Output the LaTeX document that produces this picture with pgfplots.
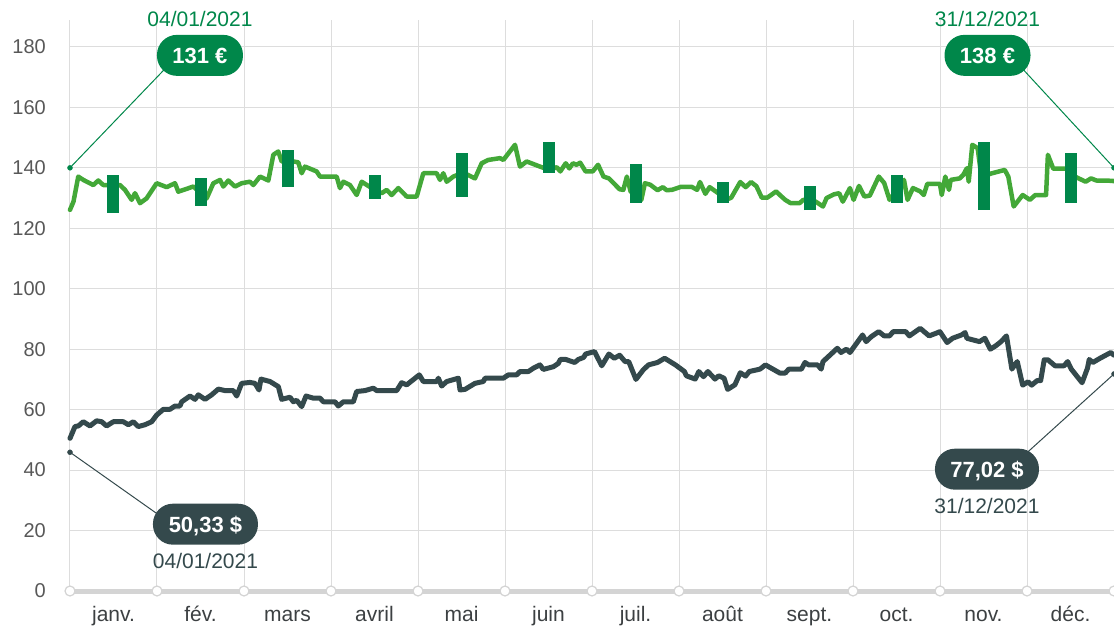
\documentclass[border=0pt]{standalone}
\usepackage{fontspec}
\setmainfont{Liberation Sans}
\usepackage{pgfplots}
\pgfplotsset{compat=1.18}
\definecolor{lgreen}{RGB}{67,168,56}
\definecolor{dgreen}{RGB}{0,135,74}
\definecolor{slate}{RGB}{52,73,76}
\definecolor{gridc}{RGB}{221,221,221}
\definecolor{basec}{RGB}{212,212,212}
\definecolor{ytc}{RGB}{88,88,88}
\definecolor{xtc}{RGB}{60,64,66}
\tikzset{
  pill/.style={rounded corners=20bp, minimum height=41bp, inner xsep=15bp, inner ysep=0pt,
    text height=16bp, text depth=0bp, text=white,
    font=\fontsize{22bp}{26bp}\selectfont\bfseries},
  datelbl/.style={anchor=base, inner sep=0pt, font=\fontsize{21bp}{25bp}\selectfont},
}
\begin{document}
\begin{tikzpicture}
\begin{axis}[
  name=ax, scale only axis,
  width=1044bp, height=571bp,
  xmin=0, xmax=12, ymin=0, ymax=188.9,
  clip=false,
  axis line style={draw=none},
  major tick style={draw=none}, minor tick style={draw=none},
  ytick={0,20,...,180},
  ymajorgrids,
  xtick={0.5,1.5,...,11.5},
  xticklabels={janv.,fév.,mars,avril,mai,juin,juil.,août,sept.,oct.,nov.,déc.},
  minor xtick={0,1,...,12},
  xminorgrids,
  major grid style={gridc, line width=1bp},
  minor grid style={gridc, line width=1bp},
  /pgf/number format/assume math mode=true,
  yticklabel style={font=\fontsize{20bp}{24bp}\selectfont, text=ytc, inner sep=0pt, anchor=east, xshift=-24bp},
  xticklabel style={font=\fontsize{21bp}{25bp}\selectfont, text=xtc, inner sep=0pt, anchor=north, text height=15bp, text depth=5bp, yshift=-15bp},
]
% baseline
\addplot[basec, line width=5bp] coordinates {(0,0) (12,0)};
\addplot[only marks, mark=*, mark size=5bp, mark options={fill=white, draw=basec, line width=1.2bp}]
 coordinates {(0,0)(1,0)(2,0)(3,0)(4,0)(5,0)(6,0)(7,0)(8,0)(9,0)(10,0)(11,0)(12,0)};
% green series
\addplot[lgreen, line width=4.5bp, line join=round, line cap=round] coordinates {
(0,126.1)(0.04,128.8)(0.095,137.1)(0.153,136)(0.268,134.3)(0.325,135.8)(0.383,134.3)(0.575,134.3)
(0.632,132.7)(0.709,129.4)(0.747,131.6)(0.805,128.3)(0.881,129.9)(0.996,134.9)(1.111,133.6)(1.207,134.9)
(1.245,132.1)(1.418,133.8)(1.571,129.9)(1.648,134.9)(1.724,136)(1.762,133.8)(1.82,135.8)(1.897,133.8)
(1.973,134.9)(2.069,135.4)(2.107,134.3)(2.184,137.1)(2.28,135.8)(2.337,144.3)(2.394,145.4)(2.433,142.1)
(2.567,142.1)(2.624,141.8)(2.663,138.2)(2.701,140.4)(2.835,138.8)(2.874,137.1)(3.065,137.1)(3.103,133.3)
(3.142,135.4)(3.218,134.3)(3.295,131)(3.353,135.4)(3.467,133.3)(3.582,131.6)(3.64,132.7)(3.697,131)
(3.774,133.3)(3.87,130.5)(3.985,130.5)(4.061,138.2)(4.215,138.2)(4.253,136)(4.291,138.2)(4.33,135.4)
(4.406,137.1)(4.521,138.4)(4.655,136.5)(4.732,141.5)(4.808,142.6)(4.943,143.2)(4.981,142.6)(5.115,147.6)
(5.172,140.4)(5.249,142.1)(5.402,140.4)(5.512,139.3)(5.595,140.2)(5.636,138.8)(5.698,141.5)(5.739,139.8)
(5.781,141.5)(5.822,141)(5.864,141.7)(5.926,138.8)(6.008,138.8)(6.07,141)(6.132,137.1)(6.194,136.5)
(6.318,132.9)(6.36,132.7)(6.401,137.1)(6.443,132.2)(6.567,129.4)(6.608,134.9)(6.67,134.4)(6.753,132.6)
(6.815,133.6)(6.856,132.6)(6.918,132.7)(7.021,133.7)(7.146,133.7)(7.208,132.7)(7.241,135.3)(7.303,131.4)
(7.352,133.6)(7.456,131.5)(7.538,129.4)(7.6,130.1)(7.704,135.3)(7.766,133.6)(7.828,135.3)(7.89,133.9)
(7.952,130.1)(8.014,130.1)(8.117,132.2)(8.159,131.0)(8.221,129.4)(8.283,128.3)(8.386,128.3)(8.428,129.4)
(8.572,128.8)(8.655,127.2)(8.696,130)(8.779,131.2)(8.841,131.6)(8.883,128.8)(8.965,133.3)(9.007,129.4)
(9.069,134)(9.131,130.5)(9.193,130.8)(9.296,137.1)(9.358,135)(9.42,129.4)(9.586,136)(9.627,129.4)
(9.689,133.3)(9.772,132.2)(9.813,131)(9.854,134.7)(9.999,134.7)(10.02,131)(10.061,137.1)(10.103,132.7)
(10.123,136)(10.227,136.5)(10.268,137.7)(10.309,139.9)(10.33,135.4)(10.371,147.6)(10.433,146.5)(10.475,137.1)
(10.599,138.2)(10.744,139.3)(10.785,137.1)(10.847,127.2)(10.95,131)(11.033,129.4)(11.095,131)(11.219,131)
(11.24,144.3)(11.302,139.7)(11.467,139.7)(11.55,137.1)(11.674,135.4)(11.736,136.5)(11.798,135.8)(11.984,135.7)
(12,135.5)};
% bars
\addplot[dgreen, line width=12bp, unbounded coords=jump] coordinates {
(0.5,125.2)(0.5,137.7)(0.5,nan)
(1.5,127.4)(1.5,136.6)(1.5,nan)
(2.5,133.5)(2.5,145.9)(2.5,nan)
(3.5,129.7)(3.5,137.7)(3.5,nan)
(4.5,130.5)(4.5,144.8)(4.5,nan)
(5.5,138.4)(5.5,148.7)(5.5,nan)
(6.5,128.4)(6.5,141.1)(6.5,nan)
(7.5,128.4)(7.5,135.3)(7.5,nan)
(8.5,126.0)(8.5,133.9)(8.5,nan)
(9.5,128.4)(9.5,137.5)(9.5,nan)
(10.5,126.0)(10.5,148.5)(10.5,nan)
(11.5,128.4)(11.5,144.8)};
% dark series
\addplot[slate, line width=5bp, line join=round, line cap=round] coordinates {
(0,50.5)(0.057,54.4)(0.096,54.6)(0.153,56)(0.23,54.6)(0.306,56.3)(0.364,56)(0.421,54.6)(0.498,56)
(0.613,56)(0.671,55)(0.728,56)(0.785,54.4)(0.862,55)(0.939,56)(0.996,58.2)(1.073,60.1)(1.149,60.1)
(1.207,61.2)(1.264,61.2)(1.284,62.6)(1.379,64.5)(1.437,63.4)(1.475,64.9)(1.552,63.4)(1.628,64.9)
(1.705,66.8)(1.782,66.3)(1.877,66.3)(1.916,64.5)(1.973,68.7)(2.069,69)(2.126,68.7)(2.172,66.5)
(2.195,70.1)(2.299,69.3)(2.395,67.6)(2.433,63.4)(2.529,64.1)(2.567,62.6)(2.605,63.1)(2.663,61)
(2.713,64.5)(2.797,63.8)(2.874,63.8)(2.912,62.6)(3.046,62.6)(3.084,61.2)(3.142,62.6)(3.257,62.6)
(3.295,66)(3.391,66.3)(3.487,67.1)(3.525,66.3)(3.755,66.3)(3.812,68.9)(3.87,68.2)(4.015,71.5)
(4.061,69.3)(4.215,69.3)(4.234,70.4)(4.272,67.8)(4.33,69.3)(4.464,70.4)(4.483,66.5)(4.54,66.7)
(4.655,68.7)(4.751,69.3)(4.77,70.4)(4.981,70.4)(5.038,71.5)(5.134,71.5)(5.172,72.6)(5.268,72.6)
(5.326,73.7)(5.402,74.8)(5.44,73.3)(5.556,74.2)(5.613,75.3)(5.636,76.6)(5.698,76.6)(5.801,75.6)
(5.843,76.6)(5.905,77.3)(5.926,78.4)(6.029,79.2)(6.112,74.5)(6.194,78.4)(6.256,77)(6.318,78)
(6.38,75.9)(6.422,75.9)(6.505,70)(6.587,73.1)(6.649,74.8)(6.753,75.6)(6.835,77)(6.959,74.8)
(7.063,72.6)(7.084,71.2)(7.187,70.1)(7.228,72.6)(7.282,70.9)(7.332,72.6)(7.414,70.1)(7.456,71.2)
(7.518,70.4)(7.559,66.7)(7.642,68.2)(7.704,72.2)(7.766,71.1)(7.807,72.6)(7.931,73.4)(7.993,74.8)
(8.159,72.1)(8.221,72.1)(8.262,73.4)(8.407,73.4)(8.448,75.6)(8.49,74.8)(8.593,74.8)(8.634,73.4)
(8.655,75.9)(8.82,80.3)(8.862,78.9)(8.924,80)(8.965,78.9)(9.11,84.7)(9.151,82.5)(9.213,84.2)
(9.296,85.8)(9.358,84.4)(9.42,84.4)(9.462,85.8)(9.606,85.8)(9.648,84.4)(9.772,86.9)(9.875,84.4)
(9.958,85.3)(9.999,85.8)(10.082,82.2)(10.144,83.6)(10.247,84.7)(10.289,85.5)(10.309,83.6)(10.454,82.5)
(10.516,83.6)(10.578,80)(10.64,81.1)(10.702,82.5)(10.764,84.4)(10.826,73.4)(10.888,75.9)(10.95,68.1)
(11.012,69.2)(11.054,68.1)(11.116,69.6)(11.157,69.6)(11.198,76.5)(11.24,76.5)(11.322,74.5)(11.426,74.5)
(11.467,75.9)(11.509,73.4)(11.633,68.9)(11.695,73.7)(11.715,76.6)(11.757,75.6)(11.84,77)(11.963,78.9)
(12,78)};
% callouts: green
\addplot[dgreen, line width=1bp] coordinates {(0,140) (1.167,175)};
\addplot[dgreen, line width=1bp] coordinates {(12,140) (10.87,175.2)};
\addplot[dgreen, only marks, mark=*, mark size=2.5bp] coordinates {(0,140) (12,140)};
\node[pill, fill=dgreen, minimum width=86bp] at (axis cs:1.494,177.2) {131 €};
\node[pill, fill=dgreen, minimum width=86bp] at (axis cs:10.546,177.2) {138 €};
\node[datelbl, text=dgreen] at (axis cs:1.494,186.9) {04/01/2021};
\node[datelbl, text=dgreen] at (axis cs:10.546,186.9) {31/12/2021};
% callouts: dark
\addplot[slate, line width=1bp] coordinates {(0,45.9) (1.147,22.6)};
\addplot[slate, line width=1bp] coordinates {(12,71.8) (10.89,42.9)};
\addplot[slate, only marks, mark=*, mark size=2.5bp] coordinates {(0,45.9) (12,71.8)};
\node[pill, fill=slate, minimum width=105bp] at (axis cs:1.557,22.1) {50,33 \$};
\node[pill, fill=slate, minimum width=104bp] at (axis cs:10.54,40.3) {77,02 \$};
\node[datelbl, text=slate] at (axis cs:1.557,7.6) {04/01/2021};
\node[datelbl, text=slate] at (axis cs:10.54,25.5) {31/12/2021};
\end{axis}
\pgfresetboundingbox
\path[use as bounding box] ([xshift=-70bp,yshift=-39bp]ax.south west) rectangle ([yshift=20bp]ax.north east);
\end{tikzpicture}
\end{document}
